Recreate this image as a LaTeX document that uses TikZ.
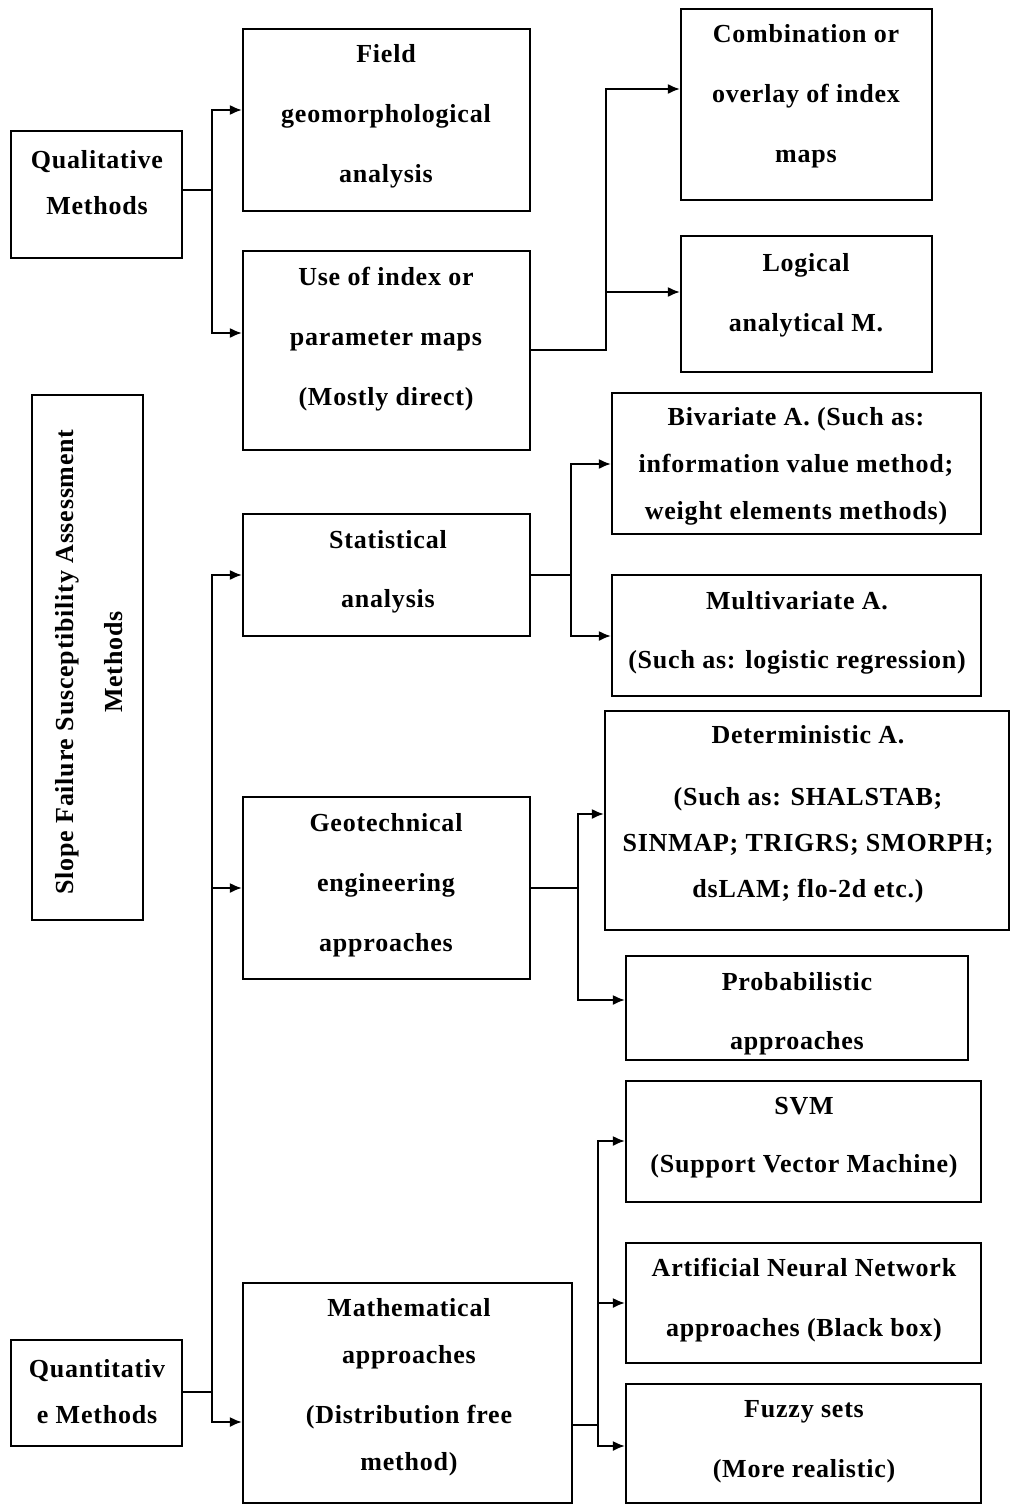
\documentclass[tikz,border=0pt]{standalone}
\usepackage{fontspec}
\setmainfont{Liberation Serif}[LetterSpace=3]
\usetikzlibrary{arrows.meta,fit}
\newcommand\lsW{\fontsize{13}{30}\selectfont\bfseries}
\newcommand\lsN{\fontsize{13}{23}\selectfont\bfseries}
\newcommand\lsM{\fontsize{13}{23.5}\selectfont\bfseries}
\tikzset{
  box/.style={draw, line width=1.1pt, inner sep=0pt},
  txt/.style={align=center, inner sep=0pt, yshift=-1.5pt},
  ln/.style={line width=0.9pt},
  arr/.style={ln, -{Latex[length=6pt,width=5pt]}},
}
\begin{document}
\begin{tikzpicture}[x=0.5pt,y=-0.5pt]
\fill[white] (0,0) rectangle (1011,1504);
\useasboundingbox (0,0) rectangle (1011,1504);

% boxes
\node[box, fit={(11,131)(182,258)}] (qual) {};
\node[box, fit={(243,29)(530,211)}] (field) {};
\node[box, fit={(243,251)(530,450)}] (use) {};
\node[box, fit={(681,9)(932,200)}] (comb) {};
\node[box, fit={(681,236)(932,372)}] (logic) {};
\node[box, fit={(32,395)(143,920)}] (slope) {};
\node[box, fit={(243,514)(530,636)}] (stat) {};
\node[box, fit={(612,393)(981,534)}] (biv) {};
\node[box, fit={(612,575)(981,696)}] (multi) {};
\node[box, fit={(605,711)(1009,930)}] (det) {};
\node[box, fit={(243,797)(530,979)}] (geo) {};
\node[box, fit={(626,956)(968,1060)}] (prob) {};
\node[box, fit={(626,1081)(981,1202)}] (svm) {};
\node[box, fit={(626,1243)(981,1363)}] (ann) {};
\node[box, fit={(626,1384)(981,1503)}] (fuzzy) {};
\node[box, fit={(243,1283)(572,1503)}] (math) {};
\node[box, fit={(11,1340)(182,1446)}] (quant) {};

% texts
\node[txt, font=\lsN] (qualt) at (97,180) {Qualitative\\Methods};
\node[txt, font=\lsW] (fieldt) at (386,113) {Field\\geomorphological\\analysis};
\node[txt, font=\lsW] (uset) at (386,336.5) {Use of index or\\parameter maps\\(Mostly direct)};
\node[txt, font=\lsW] (combt) at (806,93.5) {Combination or\\overlay of index\\maps};
\node[txt, font=\lsW] (logict) at (806,292) {Logical\\analytical M.};
\node[txt, rotate=90, yshift=1.5pt, xshift=-1.5pt, font={\fontsize{13}{24.5}\selectfont\bfseries}] (slopet) at (92,656) {Slope Failure Susceptibility Assessment\\Methods};
\node[txt, font={\fontsize{13}{29.5}\selectfont\bfseries}] (statt) at (388,568.5) {Statistical\\analysis};
\node[txt, font=\lsM] (bivt) at (796,463.5) {Bivariate A. (Such as:\\information value method;\\weight elements methods)};
\node[txt, font={\fontsize{13}{29.5}\selectfont\bfseries}] (multit) at (797,629.5) {Multivariate A.\\(Such as: logistic regression)};
\node[txt, font=\lsN] (dett) at (808,811.5) {Deterministic A.\\[8pt](Such as: SHALSTAB;\\SINMAP; TRIGRS; SMORPH;\\dsLAM; flo-2d etc.)};
\node[txt, font=\lsW] (geot) at (386,882) {Geotechnical\\engineering\\approaches};
\node[txt, font={\fontsize{13}{29.5}\selectfont\bfseries}] (probt) at (797,1010.5) {Probabilistic\\approaches};
\node[txt, font={\fontsize{13}{29}\selectfont\bfseries}] (svmt) at (804,1135) {SVM\\(Support Vector Machine)};
\node[txt, font=\lsW] (annt) at (804,1297) {Artificial Neural Network\\approaches (Black box)};
\node[txt, font=\lsW] (fuzzyt) at (804,1439) {Fuzzy sets\\(More realistic)};
\node[txt, font=\lsM] (matht) at (409,1384) {Mathematical\\approaches\\[6.5pt](Distribution free\\method)};
\node[txt, font=\lsN] (quantt) at (97,1389) {Quantitativ\\e Methods};

% connectors: qualitative
\coordinate (qj) at (212,190); \coordinate (qa) at (0,110); \coordinate (qb) at (0,333);
\draw[arr] (qual.east|-qj) -- (qj) |- (field.west|-qa);
\draw[arr] (qj) |- (use.west|-qb);

\coordinate (uj) at (606,350); \coordinate (ua) at (0,89); \coordinate (ub) at (0,292);
\draw[arr] (use.east|-uj) -- (uj) |- (comb.west|-ua);
\draw[arr] (uj) |- (logic.west|-ub);

% quantitative
\coordinate (nj) at (212,1392); \coordinate (na) at (0,575); \coordinate (nb) at (0,888); \coordinate (nc) at (0,1422);
\draw[arr] (quant.east|-nj) -- (nj) |- (math.west|-nc);
\draw[arr] (nj) |- (geo.west|-nb);
\draw[arr] (nj) |- (stat.west|-na);

\coordinate (sj) at (571,575); \coordinate (sa) at (0,464); \coordinate (sb) at (0,636);
\draw[arr] (stat.east|-sj) -- (sj) |- (biv.west|-sa);
\draw[arr] (sj) |- (multi.west|-sb);

\coordinate (gj) at (578,888); \coordinate (ga) at (0,814); \coordinate (gb) at (0,1000);
\draw[arr] (geo.east|-gj) -- (gj) |- (det.west|-ga);
\draw[arr] (gj) |- (prob.west|-gb);

\coordinate (mj) at (598,1425); \coordinate (ma) at (0,1141); \coordinate (mb) at (0,1303); \coordinate (mc) at (0,1446);
\draw[arr] (math.east|-mj) -- (mj) |- (svm.west|-ma);
\draw[arr] (mj) |- (ann.west|-mb);
\draw[arr] (mj) |- (fuzzy.west|-mc);
\end{tikzpicture}
\end{document}
